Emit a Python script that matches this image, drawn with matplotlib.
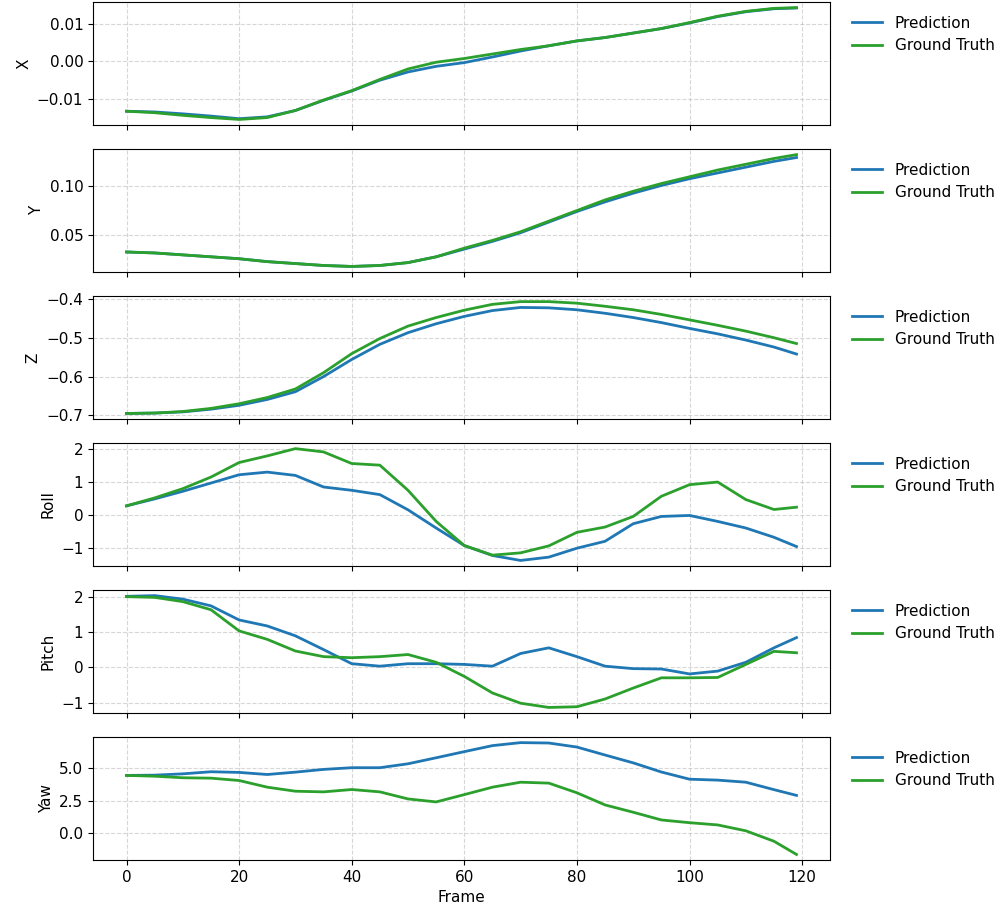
import matplotlib
matplotlib.use("Agg")
import matplotlib.pyplot as plt
import numpy as np

plt.rcParams["font.size"] = 11

frames = [0, 5, 10, 15, 20, 25, 30, 35, 40, 45, 50, 55, 60, 65, 70, 75, 80, 85, 90, 95, 100, 105, 110, 115, 119]

x_pred = [-0.0133, -0.0135, -0.0140, -0.0146, -0.0153, -0.0148, -0.0131, -0.0104, -0.0079, -0.0050, -0.0028, -0.0013,
          -0.0003, 0.0012, 0.0028, 0.0042, 0.0055, 0.0064, 0.0076, 0.0088, 0.0103, 0.0120, 0.0133, 0.0141, 0.0143]
x_gt = [-0.0133, -0.0137, -0.0144, -0.0150, -0.0155, -0.0150, -0.0131, -0.0103, -0.0078, -0.0048, -0.0020, -0.0002,
        0.0008, 0.0020, 0.0032, 0.0042, 0.0055, 0.0064, 0.0076, 0.0088, 0.0104, 0.0121, 0.0134, 0.0142, 0.0144]

y_pred = [0.032, 0.031, 0.029, 0.027, 0.025, 0.022, 0.020, 0.018, 0.017, 0.018, 0.021, 0.027, 0.035, 0.043, 0.052,
          0.063, 0.074, 0.084, 0.093, 0.101, 0.108, 0.114, 0.120, 0.126, 0.130]
y_gt = [0.032, 0.031, 0.029, 0.027, 0.025, 0.022, 0.020, 0.018, 0.017, 0.018, 0.021, 0.027, 0.036, 0.044, 0.053,
        0.064, 0.075, 0.086, 0.095, 0.103, 0.110, 0.117, 0.123, 0.129, 0.133]

z_pred = [-0.695, -0.694, -0.691, -0.684, -0.674, -0.659, -0.639, -0.600, -0.556, -0.517, -0.487, -0.464, -0.445,
          -0.430, -0.422, -0.423, -0.428, -0.437, -0.448, -0.461, -0.476, -0.490, -0.506, -0.524, -0.542]
z_gt = [-0.695, -0.694, -0.690, -0.682, -0.670, -0.654, -0.632, -0.590, -0.541, -0.502, -0.470, -0.448, -0.429,
        -0.414, -0.407, -0.407, -0.411, -0.419, -0.428, -0.440, -0.454, -0.468, -0.483, -0.500, -0.515]

roll_pred = [0.27, 0.48, 0.71, 0.96, 1.21, 1.29, 1.19, 0.84, 0.74, 0.61, 0.15, -0.40, -0.93, -1.23, -1.38, -1.28,
             -1.01, -0.80, -0.27, -0.05, -0.02, -0.20, -0.40, -0.68, -0.96]
roll_gt = [0.27, 0.51, 0.79, 1.14, 1.58, 1.78, 2.00, 1.90, 1.55, 1.50, 0.74, -0.20, -0.93, -1.22, -1.15, -0.94,
           -0.53, -0.37, -0.05, 0.56, 0.91, 0.99, 0.46, 0.16, 0.23]

pitch_pred = [2.01, 2.03, 1.93, 1.74, 1.34, 1.17, 0.89, 0.50, 0.10, 0.03, 0.10, 0.10, 0.08, 0.03, 0.39, 0.55,
              0.30, 0.03, -0.04, -0.05, -0.19, -0.11, 0.14, 0.55, 0.84]
pitch_gt = [2.00, 1.98, 1.86, 1.63, 1.03, 0.79, 0.46, 0.30, 0.27, 0.30, 0.36, 0.14, -0.26, -0.73, -1.02, -1.14,
            -1.12, -0.90, -0.59, -0.30, -0.30, -0.29, 0.08, 0.45, 0.41]

yaw_pred = [4.44, 4.46, 4.56, 4.72, 4.67, 4.51, 4.69, 4.90, 5.03, 5.03, 5.33, 5.79, 6.26, 6.72, 6.95, 6.92, 6.61,
            6.00, 5.40, 4.70, 4.15, 4.08, 3.92, 3.35, 2.91]
yaw_gt = [4.44, 4.38, 4.26, 4.23, 4.05, 3.54, 3.23, 3.18, 3.36, 3.18, 2.64, 2.41, 2.97, 3.54, 3.92, 3.85, 3.11,
          2.18, 1.62, 1.03, 0.82, 0.65, 0.20, -0.60, -1.61]

labels = ["X", "Y", "Z", "Roll", "Pitch", "Yaw"]
preds = [x_pred, y_pred, z_pred, roll_pred, pitch_pred, yaw_pred]
gts = [x_gt, y_gt, z_gt, roll_gt, pitch_gt, yaw_gt]

fig, axes = plt.subplots(6, 1, figsize=(10, 9.22), dpi=100, sharex=True)
fig.subplots_adjust(left=0.093, right=0.83, top=0.9978, bottom=0.0672, hspace=0.195)

for ax, lab, p, g in zip(axes, labels, preds, gts):
    ax.plot(frames, p, color="#1f77b4", lw=2, label="Prediction")
    ax.plot(frames, g, color="#2ca02c", lw=2, label="Ground Truth")
    ax.set_ylabel(lab)
    ax.grid(True, linestyle="--", alpha=0.5)
    ax.legend(loc="upper left", bbox_to_anchor=(1.011, 1), frameon=False)

axes[-1].set_xlabel("Frame")
fig.savefig("out.png", dpi=100)
